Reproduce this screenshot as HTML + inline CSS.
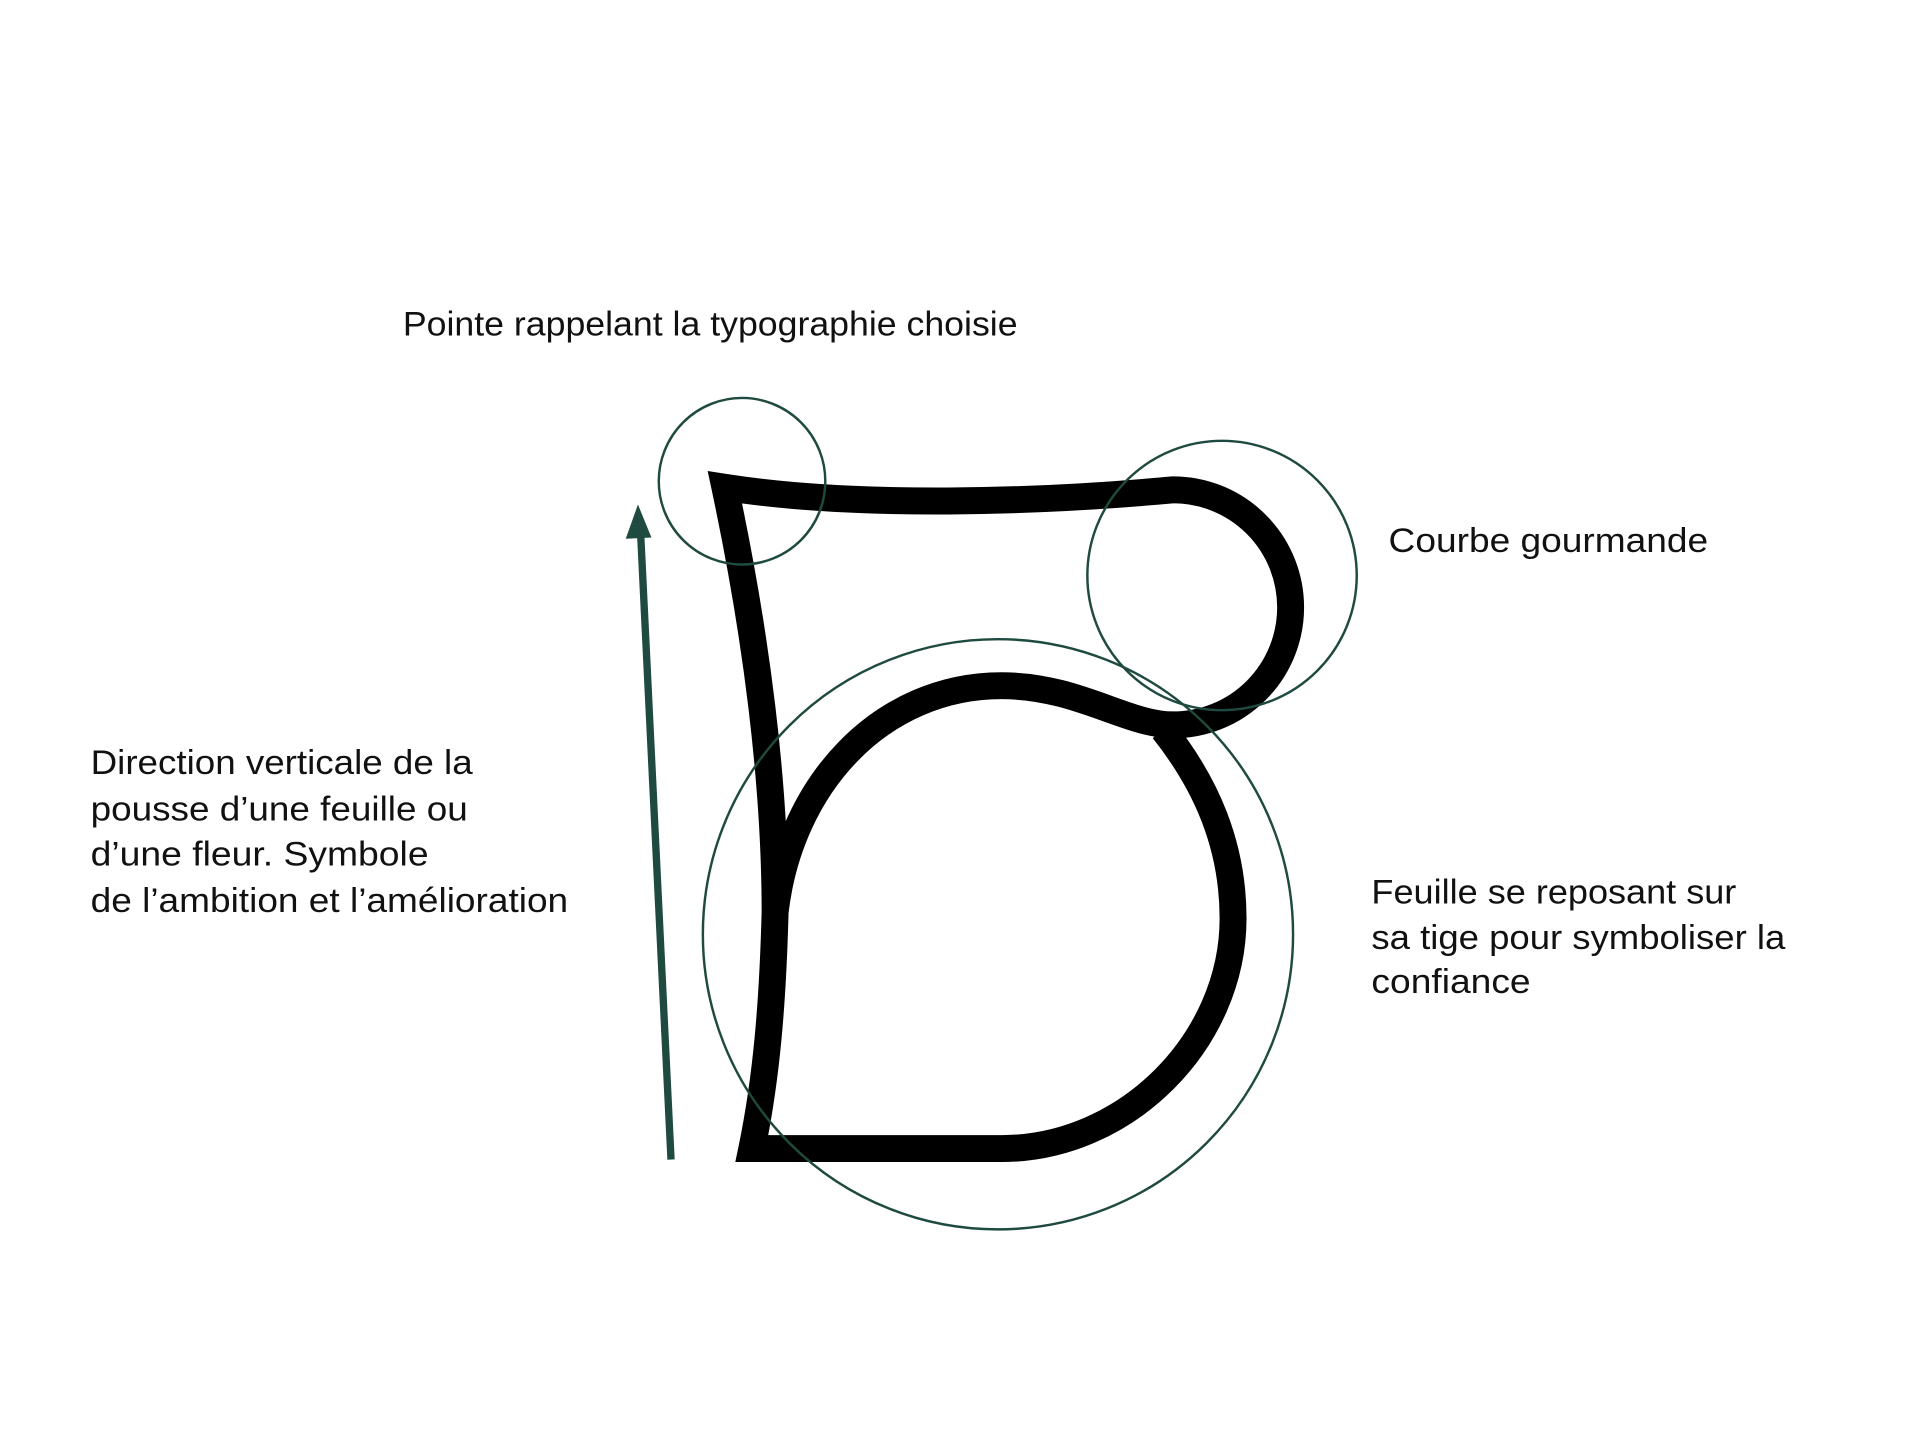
<!DOCTYPE html>
<html><head><meta charset="utf-8"><style>
html,body{margin:0;padding:0;background:#fff;}
svg{display:block;}
text{font-family:"Liberation Sans",sans-serif;font-size:28px;fill:#111;}
</style></head><body>
<svg width="1920" height="1440" viewBox="0 0 1568 1176" xmlns="http://www.w3.org/2000/svg">
<rect width="1568" height="1176" fill="#fff"/>
<g fill="none" stroke="#000" stroke-width="22" stroke-linejoin="miter" stroke-miterlimit="10">
<path d="M950,596 C985,640 1007,690 1007,750 C1007,850 920,938 818,938 L614,938 C626,880 631,820 633,745 C633,640 618,520 592,398 C700,415 850,410 958,400 A96,96 0 0 1 958,592 C920,592 880,560 818,560 C720,560 645,640 633,745"/>
</g>
<g fill="none" stroke="#1f4a3f" stroke-width="2">
<circle cx="606" cy="393" r="68"/>
<circle cx="998" cy="470" r="110"/>
<circle cx="815" cy="763" r="241"/>
</g>
<g>
<line x1="548" y1="947" x2="523" y2="432" stroke="#1f4a3f" stroke-width="6"/>
<polygon points="521,412 511,440 532,439" fill="#1f4a3f"/>
</g>
<text x="329" y="274" textLength="502" lengthAdjust="spacingAndGlyphs">Pointe rappelant la typographie choisie</text>
<text x="1134" y="451" textLength="261" lengthAdjust="spacingAndGlyphs">Courbe gourmande</text>
<g>
<text x="74" y="632" textLength="312" lengthAdjust="spacingAndGlyphs">Direction verticale de la</text>
<text x="74" y="670" textLength="308" lengthAdjust="spacingAndGlyphs">pousse d’une feuille ou</text>
<text x="74" y="707" textLength="276" lengthAdjust="spacingAndGlyphs">d’une fleur. Symbole</text>
<text x="74" y="745" textLength="390" lengthAdjust="spacingAndGlyphs">de l’ambition et l’amélioration</text>
</g>
<g>
<text x="1120" y="738" textLength="298" lengthAdjust="spacingAndGlyphs">Feuille se reposant sur</text>
<text x="1120" y="775" textLength="338" lengthAdjust="spacingAndGlyphs">sa tige pour symboliser la</text>
<text x="1120" y="811" textLength="130" lengthAdjust="spacingAndGlyphs">confiance</text>
</g>
</svg>
</body></html>
